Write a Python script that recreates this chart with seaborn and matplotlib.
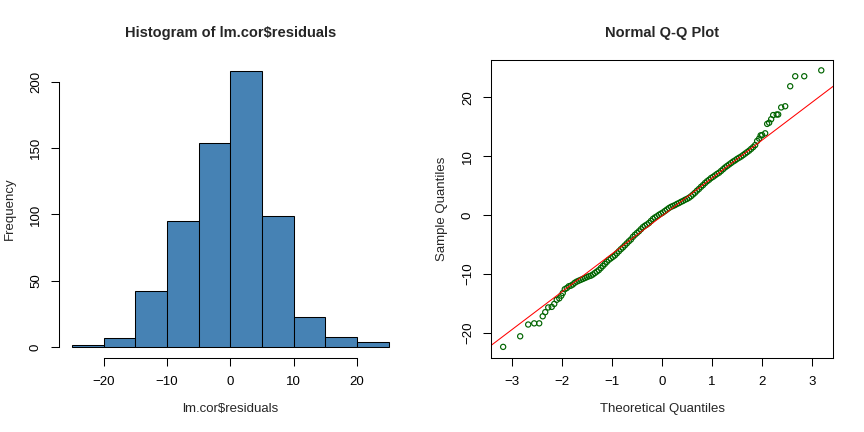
import matplotlib
import numpy as np
import seaborn as sns
import matplotlib.pyplot as plt

matplotlib.use('Agg')

# histogram of residuals (bin edges and counts)
bin_edges = [-25, -20, -15, -10, -5, 0, 5, 10, 15, 20, 25]
bin_counts = [2, 7, 42, 95, 154, 208, 99, 23, 8, 4]

# normal Q-Q points (theoretical, sample)
qq_theoretical = [
    -3.17, -2.83, -2.67, -2.55, -2.45, -2.38, -2.33, -2.27, -2.20, -2.15,
    -2.10, -2.05, -2.01, -1.98,
    -1.94, -1.90, -1.86, -1.82, -1.78, -1.74, -1.70, -1.66, -1.62, -1.58,
    -1.54, -1.50, -1.46, -1.42, -1.38, -1.34, -1.30, -1.26, -1.22, -1.18,
    -1.14, -1.10, -1.06, -1.02, -0.98, -0.94, -0.90, -0.86, -0.82, -0.78,
    -0.74, -0.70, -0.66, -0.62, -0.58, -0.54, -0.50, -0.46, -0.42, -0.38,
    -0.34, -0.30, -0.26, -0.22, -0.18, -0.14, -0.10, -0.06, -0.02, 0.02,
    0.06, 0.10, 0.14, 0.18, 0.22, 0.26, 0.30, 0.34, 0.38, 0.42,
    0.46, 0.50, 0.54, 0.58, 0.62, 0.66, 0.70, 0.74, 0.78, 0.82,
    0.86, 0.90, 0.94, 0.98, 1.02, 1.06, 1.10, 1.14, 1.18, 1.22,
    1.26, 1.30, 1.34, 1.38, 1.42, 1.46, 1.50, 1.54, 1.58, 1.62,
    1.66, 1.70, 1.74, 1.78, 1.82, 1.86,
    1.90, 1.94, 1.97, 2.00, 2.06, 2.10, 2.14, 2.18, 2.22, 2.29,
    2.32, 2.38, 2.46, 2.56, 2.66, 2.84, 3.18,
]
qq_sample = [
    -22.4, -20.6, -18.6, -18.4, -18.4, -17.2, -16.5, -15.7, -15.6, -15.1,
    -14.4, -14.15, -13.7, -13.25,
    -12.6, -12.4, -12.1, -12.0, -11.8, -11.5, -11.3, -11.15, -11.0, -10.85,
    -10.7, -10.55, -10.4, -10.3, -10.1, -9.85, -9.6, -9.35, -9.0, -8.65,
    -8.3, -7.95, -7.6, -7.35, -7.1, -6.85, -6.5, -6.15, -5.8, -5.5,
    -5.15, -4.8, -4.45, -4.15, -3.7, -3.35, -3.05, -2.75, -2.4, -2.05,
    -1.8, -1.6, -1.35, -1.0, -0.65, -0.4, -0.2, 0.05, 0.25, 0.45,
    0.7, 0.95, 1.2, 1.4, 1.55, 1.7, 1.9, 2.05, 2.25, 2.4,
    2.6, 2.75, 2.95, 3.2, 3.5, 3.8, 4.15, 4.45, 4.8, 5.1,
    5.45, 5.75, 6.0, 6.3, 6.5, 6.75, 7.0, 7.2, 7.5, 7.8,
    8.1, 8.35, 8.6, 8.85, 9.1, 9.3, 9.55, 9.75, 9.95, 10.2,
    10.45, 10.7, 10.95, 11.25, 11.55, 11.9,
    12.6, 13.0, 13.55, 13.6, 13.9, 15.5, 15.7, 16.3, 17.0, 17.1,
    17.1, 18.3, 18.5, 21.9, 23.6, 23.6, 24.6,
]
# qqline
qq_intercept = -0.15
qq_slope = 6.45

sns.set_style('white')
plt.rcParams['font.family'] = ['Liberation Sans', 'DejaVu Sans']
plt.rcParams['axes.linewidth'] = 0.75

fig = plt.figure(figsize=(8.64, 4.32), dpi=100)
ax1 = fig.add_axes([0.0686, 0.1706, 0.3958, 0.6905])
ax2 = fig.add_axes([0.5686, 0.1706, 0.3958, 0.6905])

# left: histogram
centers = [(a + b) / 2 for a, b in zip(bin_edges[:-1], bin_edges[1:])]
sns.histplot(x=centers, weights=bin_counts, bins=bin_edges, ax=ax1,
             color='steelblue', edgecolor='black', linewidth=0.75, alpha=1)
ax1.set_xlim(-27, 27)
ax1.set_ylim(-8.32, 216.32)
ax1.set_xticks([-20, -10, 0, 10, 20])
ax1.set_yticks([0, 50, 100, 150, 200])
for s in ['top', 'right']:
    ax1.spines[s].set_visible(False)
ax1.spines['left'].set_bounds(0, 200)
ax1.spines['bottom'].set_bounds(-20, 20)
ax1.set_title('Histogram of lm.cor$residuals', fontsize=10.5,
              fontweight='bold', pad=16.5)
ax1.set_xlabel('lm.cor$residuals', fontsize=9.5, labelpad=11)
ax1.set_ylabel('Frequency', fontsize=9.5, labelpad=10)

# right: normal Q-Q plot
sns.scatterplot(x=qq_theoretical, y=qq_sample, ax=ax2, marker='o', s=14,
                facecolor='none', edgecolor='darkgreen', linewidth=0.85)
ax2.axline((0, qq_intercept), slope=qq_slope, color='red', linewidth=0.75)
ax2.set_xlim(-3.407, 3.419)
ax2.set_ylim(-24.34, 26.36)
ax2.set_xticks([-3, -2, -1, 0, 1, 2, 3])
ax2.set_yticks([-20, -10, 0, 10, 20])
for s in ax2.spines.values():
    s.set_color('black')
ax2.set_title('Normal Q-Q Plot', fontsize=10.5, fontweight='bold', pad=16.5)
ax2.set_xlabel('Theoretical Quantiles', fontsize=9.5, labelpad=11)
ax2.set_ylabel('Sample Quantiles', fontsize=9.5, labelpad=10)

for ax in (ax1, ax2):
    ax.tick_params(axis='both', direction='out', length=5.5, width=0.75,
                   labelsize=9.5, pad=7, colors='black', bottom=True, left=True)
    for lab in ax.get_yticklabels():
        lab.set_rotation(90)
        lab.set_va('center')
    ax.spines['left'].set_color('black')
    ax.spines['bottom'].set_color('black')

fig.savefig('out.png', dpi=100)
